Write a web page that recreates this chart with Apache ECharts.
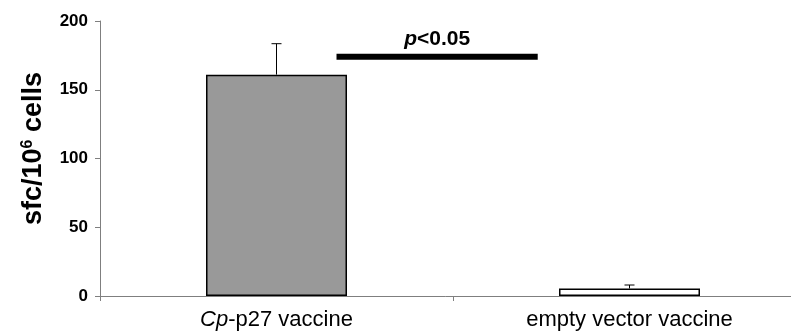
<!DOCTYPE html>
<html><head><meta charset="utf-8">
<script src="https://cdn.jsdelivr.net/npm/echarts@6/dist/echarts.min.js"></script>
<style>html,body{margin:0;padding:0;background:#fff}#c{width:791px;height:333px}</style>
</head><body><div id="c"></div>
<script>
const categories = ['Cp-p27 vaccine', 'empty vector vaccine'];
const means = [161, 5.5];
const errTops = [183.5, 8];
const yTicks = [0, 50, 100, 150, 200];
const sigFrom = 0.17;
const sigTo = 0.74;
const sigLevel = 174;
const sigLabel = '<0.05';

const chart = echarts.init(document.getElementById('c'), null, {renderer: 'canvas'});
const font = 'Liberation Sans, Arial, sans-serif';
chart.setOption({
  animation: false,
  grid: {left: 100, top: 21, width: 706, height: 275, containLabel: false, outerBoundsMode: 'none'},
  xAxis: {
    type: 'category', data: categories,
    axisLine: {lineStyle: {color: '#7f7f7f', width: 1}},
    axisTick: {show: true, length: 5, lineStyle: {color: '#7f7f7f'}},
    axisLabel: {
      margin: 13, color: '#000', fontFamily: font, fontSize: 22,
      formatter: v => v.startsWith('Cp-') ? '{i|Cp}-' + v.slice(3) : v,
      rich: {i: {fontStyle: 'italic', fontFamily: font, fontSize: 22, color: '#000'}}
    }
  },
  yAxis: {
    type: 'value', min: yTicks[0], max: yTicks[yTicks.length - 1], interval: 50,
    splitLine: {show: false},
    axisLine: {show: true, lineStyle: {color: '#7f7f7f', width: 1}},
    axisTick: {show: true, length: 5, lineStyle: {color: '#7f7f7f'}},
    axisLabel: {color: '#000', fontFamily: font, fontSize: 17, fontWeight: 'bold', margin: 12},
    name: 'sfc/10{sup|6} cells', nameLocation: 'middle', nameRotate: 90, nameGap: 52,
    nameTextStyle: {
      color: '#000', fontFamily: font, fontSize: 27, fontWeight: 'bold', padding: [0, 0, 0, 20],
      rich: {sup: {fontSize: 16, fontWeight: 'bold', fontFamily: font, color: '#000', verticalAlign: 'top', padding: [0, 0, 12, 0]}}
    }
  },
  series: [
    {
      type: 'bar', barWidth: 141,
      data: means.map((v, i) => ({value: v, itemStyle: {color: i === 0 ? '#999999' : '#ffffff'}})),
      itemStyle: {borderColor: '#000', borderWidth: 1.5},
      z: 2
    },
    {
      type: 'custom', z: 3,
      data: means.map((m, i) => [i, m, errTops[i]]),
      renderItem: (params, api) => {
        const p0 = api.coord([api.value(0), api.value(1)]);
        const p1 = api.coord([api.value(0), api.value(2)]);
        return {type: 'group', children: [
          {type: 'line', shape: {x1: p0[0], y1: p0[1], x2: p1[0], y2: p1[1]}, style: {stroke: '#000', lineWidth: 1}},
          {type: 'line', shape: {x1: p1[0] - 5, y1: p1[1], x2: p1[0] + 5, y2: p1[1]}, style: {stroke: '#000', lineWidth: 1}}
        ]};
      }
    },
    {
      type: 'custom', z: 4,
      data: [[sigFrom, sigTo, sigLevel]],
      renderItem: (params, api) => {
        const c0 = api.coord([0, api.value(2)]);
        const c1 = api.coord([1, api.value(2)]);
        const xa = c0[0] + (c1[0] - c0[0]) * api.value(0);
        const xb = c0[0] + (c1[0] - c0[0]) * api.value(1);
        const y = c0[1];
        return {type: 'group', children: [
          {type: 'line', shape: {x1: xa, y1: y, x2: xb, y2: y}, style: {stroke: '#000', lineWidth: 6}},
          {type: 'text', x: (xa + xb) / 2, y: y - 7, style: {
            text: '{i|p}{b|' + sigLabel + '}', textAlign: 'center', textVerticalAlign: 'bottom',
            rich: {
              i: {fontStyle: 'italic', fontWeight: 'bold', fontSize: 21, fontFamily: font, fill: '#000'},
              b: {fontWeight: 'bold', fontSize: 21, fontFamily: font, fill: '#000'}
            }
          }}
        ]};
      }
    }
  ]
});
</script></body></html>
